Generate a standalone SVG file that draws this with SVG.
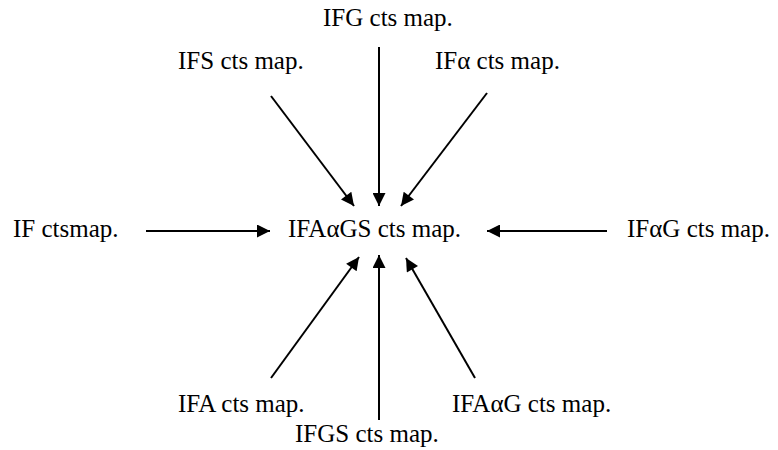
<svg xmlns="http://www.w3.org/2000/svg" width="778" height="450" viewBox="0 0 778 450">
<defs>
<style>
.t text{font-size:25px;fill:#000}
.c line{stroke:#000;stroke-width:2;marker-end:url(#ah)}
</style>
<marker id="ah" viewBox="0 0 10 10" refX="10" refY="5" markerWidth="7.5" markerHeight="6.5" markerUnits="strokeWidth" orient="auto">
<path d="M0,0 L10,5 L0,10 Z" fill="#000"/>
</marker>
</defs>
<rect width="778" height="450" fill="#fff"/>
<g class="c" id="connectors">
<line x1="379" y1="47" x2="379" y2="206"/>
<line x1="271" y1="96" x2="354" y2="206"/>
<line x1="487" y1="93" x2="401" y2="206"/>
<line x1="146" y1="231" x2="270" y2="231"/>
<line x1="607" y1="231" x2="487" y2="231"/>
<line x1="379" y1="420" x2="379" y2="255"/>
<line x1="271" y1="378" x2="359" y2="257"/>
<line x1="475" y1="378" x2="406" y2="258"/>
</g>
<g class="t" font-family="'Liberation Serif', 'Times New Roman', 'DejaVu Serif', serif">
<g id="center"><text x="288" y="237">IFAαGS cts map.</text></g>
<g id="ifg"><text x="323" y="26">IFG cts map.</text></g>
<g id="ifs"><text x="178" y="69">IFS cts map.</text></g>
<g id="ifalpha"><text x="435" y="69">IFα cts map.</text></g>
<g id="if"><text x="13" y="237">IF ctsmap.</text></g>
<g id="ifalphag"><text x="627" y="237">IFαG cts map.</text></g>
<g id="ifa"><text x="178" y="412">IFA cts map.</text></g>
<g id="ifaalphag"><text x="452" y="412">IFAαG cts map.</text></g>
<g id="ifgs"><text x="295" y="442">IFGS cts map.</text></g>
</g>
</svg>
